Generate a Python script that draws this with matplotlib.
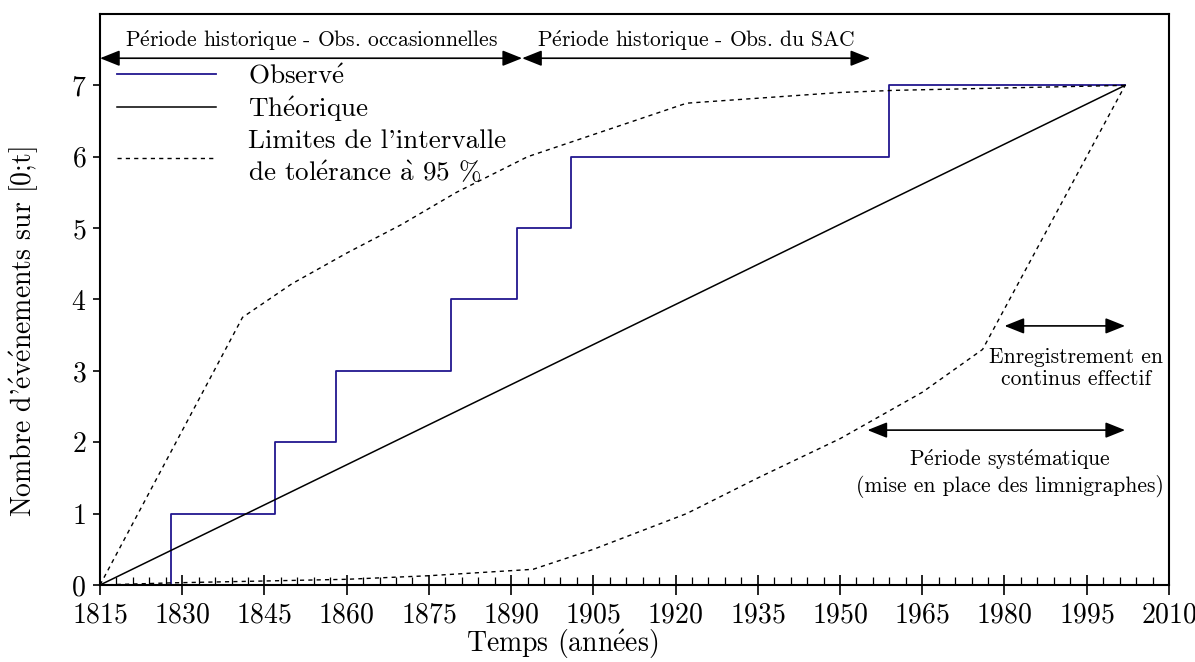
import numpy as np
import matplotlib
matplotlib.use("Agg")
import matplotlib.pyplot as plt
from matplotlib.ticker import MultipleLocator

plt.rcParams['font.family'] = ['cmr10', 'DejaVu Serif']
plt.rcParams['mathtext.fontset'] = 'cm'
plt.rcParams['mathtext.default'] = 'rm'
plt.rcParams['axes.formatter.use_mathtext'] = True

# observed counts (step after each event year)
obs_years = [1815, 1828, 1847, 1858, 1879, 1891, 1901, 1959, 2002]
obs_count = [0, 1, 2, 3, 4, 5, 6, 7, 7]

# theoretical line
theo_years = [1815, 2002]
theo_count = [0, 7]

# 95 % tolerance limits
upper_years = [1815, 1841, 1850, 1860, 1870, 1880, 1893, 1922, 1950, 1960, 2002]
upper_count = [0, 3.75, 4.22, 4.65, 5.05, 5.5, 6.0, 6.75, 6.9, 6.93, 7]
lower_years = [1815, 1828, 1841, 1860, 1875, 1894, 1905, 1922, 1935, 1950, 1965, 1976, 2002]
lower_count = [0, 0.03, 0.05, 0.08, 0.13, 0.22, 0.5, 1.0, 1.5, 2.05, 2.7, 3.3, 7]

xticks = list(range(1815, 2011, 15))
yticks = list(range(0, 8))


def acc(s):
    # accented letters drawn through mathtext so cmr10 keeps its look
    return s.replace('é', r'$\acute{e}$').replace('à', r'$\grave{a}$')


fig = plt.figure(figsize=(11.95, 6.62), dpi=100)
ax = fig.add_axes([0.0837, 0.1163, 0.8945, 0.8626])

ax.step(obs_years, obs_count, where='post', color='#22178f', lw=1.3, label=acc('Observé'))
ax.plot(theo_years, theo_count, color='black', lw=1.1, label=acc('Théorique'))
ax.plot(upper_years, upper_count, color='black', lw=1.0, ls=(0, (3, 3)),
        label=acc("Limites de l'intervalle\nde tolérance à 95 %"))
ax.plot(lower_years, lower_count, color='black', lw=1.0, ls=(0, (3, 3)))

ax.set_xlim(1815, 2010)
ax.set_ylim(0, 8)
ax.set_xticks(xticks)
ax.set_yticks(yticks)
ax.xaxis.set_minor_locator(MultipleLocator(3))
ax.tick_params(axis='x', which='major', direction='inout', length=14, width=1.2, labelsize=20, pad=5)
ax.tick_params(axis='x', which='minor', direction='in', length=6, width=0.9)
ax.tick_params(axis='y', which='major', direction='out', length=5, width=1.2, labelsize=20, pad=5)
for s in ax.spines.values():
    s.set_linewidth(1.5)

ax.set_xlabel(acc('Temps (années)'), fontsize=20)
ax.set_ylabel(acc("Nombre d'événements sur [0;t]"), fontsize=20)
ax.xaxis.set_label_coords(0.432, -0.073)
ax.yaxis.set_label_coords(-0.055, 0.443)

arrow = dict(arrowstyle='<|-|>,head_length=0.5,head_width=0.2', color='black', lw=1.2,
             mutation_scale=24, shrinkA=0, shrinkB=0)
fs = 15.5

# historic periods along the top
ax.annotate('', xy=(1815, 7.38), xytext=(1892, 7.38), arrowprops=arrow)
ax.text((1815 + 1892) / 2, 7.46, acc('Période historique - Obs. occasionnelles'),
        ha='center', va='bottom', fontsize=fs)
ax.annotate('', xy=(1892, 7.38), xytext=(1955.5, 7.38), arrowprops=arrow)
ax.text((1892 + 1955.5) / 2, 7.46, acc('Période historique - Obs. du SAC'),
        ha='center', va='bottom', fontsize=fs)

# recording periods on the right
ax.annotate('', xy=(1980, 3.63), xytext=(2002, 3.63), arrowprops=arrow)
ax.text(1993, 3.33, 'Enregistrement en\ncontinus effectif', ha='center', va='top',
        fontsize=fs, linespacing=1.2)
ax.annotate('', xy=(1955, 2.17), xytext=(2002, 2.17), arrowprops=arrow)
ax.text(1981, 1.93, acc('Période systématique\n(mise en place des limnigraphes)'),
        ha='center', va='top', fontsize=fs, linespacing=1.15)

leg = ax.legend(loc='upper left', bbox_to_anchor=(0.016, 0.912), frameon=False, fontsize=19.5,
                handlelength=3.65, handletextpad=1.2, labelspacing=0.2, borderpad=0,
                borderaxespad=0)
leg.get_texts()[2].set_linespacing(1.36)

fig.savefig('out.png', dpi=100)
